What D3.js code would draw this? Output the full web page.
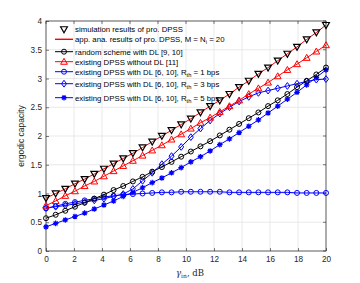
<!DOCTYPE html>
<html>
<head>
<meta charset="utf-8">
<script src="https://cdn.jsdelivr.net/npm/d3@7"></script>
<style>
  body { margin: 0; background: #fff; }
  svg { display: block; }
  text { font-family: "Liberation Sans", Arial, Helvetica, sans-serif; }
</style>
</head>
<body>
<div class="chart"></div>
<script>
// snr grid: 30 points from 0 to 20 dB
var snr = [0, 0.690, 1.379, 2.069, 2.759, 3.448, 4.138, 4.828, 5.517, 6.207,
           6.897, 7.586, 8.276, 8.966, 9.655, 10.345, 11.034, 11.724, 12.414, 13.103,
           13.793, 14.483, 15.172, 15.862, 16.552, 17.241, 17.931, 18.621, 19.310, 20];

var simPro   = [0.92, 1.00, 1.08, 1.17, 1.25, 1.34, 1.43, 1.52, 1.61, 1.70,
                1.80, 1.90, 2.00, 2.10, 2.20, 2.30, 2.41, 2.52, 2.62, 2.73,
                2.85, 2.96, 3.08, 3.19, 3.31, 3.43, 3.55, 3.68, 3.80, 3.93];
var anaPro   = simPro.slice();
var randomDL = [0.57, 0.63, 0.70, 0.77, 0.84, 0.91, 0.98, 1.06, 1.13, 1.21,
                1.29, 1.38, 1.46, 1.55, 1.64, 1.73, 1.82, 1.91, 2.01, 2.11,
                2.21, 2.31, 2.41, 2.52, 2.62, 2.73, 2.85, 2.96, 3.07, 3.19];
var noDL     = [0.79, 0.87, 0.96, 1.04, 1.13, 1.21, 1.30, 1.39, 1.48, 1.57,
                1.66, 1.75, 1.84, 1.94, 2.03, 2.13, 2.23, 2.32, 2.42, 2.52,
                2.62, 2.73, 2.83, 2.93, 3.04, 3.15, 3.25, 3.36, 3.47, 3.58];
var rth1     = [0.74, 0.78, 0.82, 0.85, 0.88, 0.91, 0.94, 0.96, 0.98, 0.99,
                1.00, 1.01, 1.02, 1.02, 1.03, 1.03, 1.03, 1.03, 1.03, 1.02,
                1.02, 1.02, 1.02, 1.02, 1.02, 1.02, 1.01, 1.01, 1.01, 1.01];
var rth3     = [0.75, 0.77, 0.79, 0.82, 0.85, 0.88, 0.91, 0.95, 0.99, 1.08,
                1.22, 1.36, 1.51, 1.65, 1.81, 1.98, 2.13, 2.27, 2.39, 2.50,
                2.60, 2.68, 2.75, 2.79, 2.83, 2.87, 2.91, 2.95, 2.98, 2.99];
var rth5     = [0.42, 0.48, 0.54, 0.60, 0.66, 0.73, 0.80, 0.87, 0.95, 1.02,
                1.10, 1.19, 1.27, 1.36, 1.45, 1.55, 1.64, 1.74, 1.85, 1.95,
                2.06, 2.17, 2.28, 2.40, 2.52, 2.64, 2.76, 2.89, 3.02, 3.15];

var xTicks = [0, 2, 4, 6, 8, 10, 12, 14, 16, 18, 20];
var yTicks = [0, 0.5, 1, 1.5, 2, 2.5, 3, 3.5, 4];

var series = [
  {name: "simulation results of pro. DPSS", values: simPro, color: "#000", line: false, marker: "tridown"},
  {name: "app. ana. results of pro. DPSS, M = N", sub: "i", after: " = 20", values: anaPro, color: "#ff0000", line: true, marker: null},
  {name: "random scheme with DL [9, 10]", values: randomDL, color: "#000", line: true, marker: "circle"},
  {name: "existing DPSS without DL [11]", values: noDL, color: "#ff0000", line: true, marker: "triup"},
  {name: "existing DPSS with DL [6, 10], R", sub: "th", after: " = 1 bps", values: rth1, color: "#0000ff", line: true, marker: "circle"},
  {name: "existing DPSS with DL [6, 10], R", sub: "th", after: " = 3 bps", values: rth3, color: "#0000ff", line: true, marker: "diamond"},
  {name: "existing DPSS with DL [6, 10], R", sub: "th", after: " = 5 bps", values: rth5, color: "#0000ff", line: true, marker: "star"}
];

var margin = {top: 21, right: 34, bottom: 32, left: 46},
    width = 360 - margin.left - margin.right,
    height = 283 - margin.top - margin.bottom;

var svg = d3.select(".chart").append("svg")
    .attr("width", 360)
    .attr("height", 283)
  .append("g")
    .attr("transform", "translate(" + margin.left + "," + margin.top + ")");

var x = d3.scaleLinear().domain([0, 20]).range([0, width]);
var y = d3.scaleLinear().domain([0, 4]).range([height, 0]);

// grid
svg.selectAll(".gx").data(xTicks).enter().append("line")
    .attr("x1", function(d){ return x(d); }).attr("x2", function(d){ return x(d); })
    .attr("y1", 0).attr("y2", height)
    .attr("stroke", "#e3e3e3").attr("stroke-width", 0.8);
svg.selectAll(".gy").data(yTicks).enter().append("line")
    .attr("y1", function(d){ return y(d); }).attr("y2", function(d){ return y(d); })
    .attr("x1", 0).attr("x2", width)
    .attr("stroke", "#e3e3e3").attr("stroke-width", 0.8);

// axes
var xAxis = d3.axisBottom(x).tickValues(xTicks).tickSize(-3).tickPadding(5);
var yAxis = d3.axisLeft(y).tickValues(yTicks).tickSize(-3).tickPadding(4)
    .tickFormat(function(d){ return d; });

var gx = svg.append("g").attr("transform", "translate(0," + height + ")").call(xAxis);
var gy = svg.append("g").call(yAxis);
[gx, gy].forEach(function(g){
  g.select(".domain").remove();
  g.selectAll("line").attr("stroke", "#262626").attr("stroke-width", 0.6);
  g.selectAll("text").attr("fill", "#262626").style("font-size", "8.2px")
    .style("font-family", "'Liberation Sans', Arial, sans-serif");
});

// top/right ticks
svg.selectAll(".tt").data(xTicks).enter().append("line")
    .attr("x1", function(d){ return x(d); }).attr("x2", function(d){ return x(d); })
    .attr("y1", 0).attr("y2", 3).attr("stroke", "#262626").attr("stroke-width", 0.6);
svg.selectAll(".rt").data(yTicks).enter().append("line")
    .attr("y1", function(d){ return y(d); }).attr("y2", function(d){ return y(d); })
    .attr("x1", width).attr("x2", width - 3).attr("stroke", "#262626").attr("stroke-width", 0.6);

svg.append("rect").attr("width", width).attr("height", height)
    .attr("fill", "none").attr("stroke", "#262626").attr("stroke-width", 0.7);

// markers
function drawMarker(g, type, cx, cy, color) {
  if (type === "circle") {
    g.append("circle").attr("cx", cx).attr("cy", cy).attr("r", 2.5)
      .attr("fill", "none").attr("stroke", color).attr("stroke-width", 1);
  } else if (type === "tridown") {
    var s = 3.4;
    g.append("path")
      .attr("d", "M" + (cx - s) + "," + (cy - s * 0.75) + "L" + (cx + s) + "," + (cy - s * 0.75) + "L" + cx + "," + (cy + s) + "Z")
      .attr("fill", "none").attr("stroke", color).attr("stroke-width", 1.2);
  } else if (type === "triup") {
    var t = 3.4;
    g.append("path")
      .attr("d", "M" + (cx - t) + "," + (cy + t * 0.75) + "L" + (cx + t) + "," + (cy + t * 0.75) + "L" + cx + "," + (cy - t) + "Z")
      .attr("fill", "none").attr("stroke", color).attr("stroke-width", 1);
  } else if (type === "diamond") {
    g.append("path")
      .attr("d", "M" + cx + "," + (cy - 3.4) + "L" + (cx + 2.5) + "," + cy + "L" + cx + "," + (cy + 3.4) + "L" + (cx - 2.5) + "," + cy + "Z")
      .attr("fill", "none").attr("stroke", color).attr("stroke-width", 1);
  } else if (type === "star") {
    var r = 2.8, d = "";
    for (var k = 0; k < 4; k++) {
      var a = k * Math.PI / 4;
      d += "M" + (cx - r * Math.cos(a)) + "," + (cy - r * Math.sin(a)) + "L" + (cx + r * Math.cos(a)) + "," + (cy + r * Math.sin(a));
    }
    g.append("path").attr("d", d).attr("stroke", color).attr("stroke-width", 1.2);
    g.append("circle").attr("cx", cx).attr("cy", cy).attr("r", 1.6).attr("fill", color);
  }
}

var line = d3.line()
    .x(function(d, i){ return x(snr[i]); })
    .y(function(d){ return y(d); });

// draw order: later series on top
var drawOrder = [4, 5, 6, 2, 3, 1, 0];
drawOrder.forEach(function(idx){
  var s = series[idx];
  var g = svg.append("g");
  if (s.line) {
    g.append("path").datum(s.values).attr("d", line)
      .attr("fill", "none").attr("stroke", s.color).attr("stroke-width", 1);
  }
  if (s.marker) {
    s.values.forEach(function(v, i){ drawMarker(g, s.marker, x(snr[i]), y(v), s.color); });
  }
});

// legend (box off)
var legendY = [8.3, 18.3, 30.7, 40.7, 50.7, 62.7, 76.7];
var leg = svg.append("g");
series.forEach(function(s, i){
  var ly = legendY[i];
  if (s.line) {
    leg.append("line").attr("x1", 9).attr("x2", 27).attr("y1", ly).attr("y2", ly)
      .attr("stroke", s.color).attr("stroke-width", s.marker ? 1 : 1.4);
  }
  if (s.marker) drawMarker(leg, s.marker, 18, ly, s.color);
  var t = leg.append("text").attr("x", 29).attr("y", ly + 2.8)
      .style("font-size", "7.8px").attr("fill", "#000");
  t.append("tspan").text(s.name);
  if (s.sub) {
    t.append("tspan").attr("dy", 2.3).style("font-size", "5.8px").text(s.sub);
    t.append("tspan").attr("dy", -2.3).text(s.after);
  }
});

// axis labels
svg.append("text")
    .attr("transform", "translate(-22," + (height / 2) + ") rotate(-90)")
    .attr("text-anchor", "middle")
    .style("font-size", "8.5px").attr("fill", "#262626")
    .text("ergodic capacity");

var xl = svg.append("text")
    .attr("x", width / 2 + 4).attr("y", height + 25)
    .attr("text-anchor", "middle")
    .style("font-family", "'DejaVu Serif', 'Liberation Serif', serif")
    .style("font-size", "8.5px").attr("fill", "#262626");
xl.append("tspan").style("font-style", "italic").text("γ");
xl.append("tspan").attr("dy", 2.3).style("font-size", "6px").text("in");
xl.append("tspan").attr("dy", -2.3).text(", dB");
</script>
</body>
</html>
